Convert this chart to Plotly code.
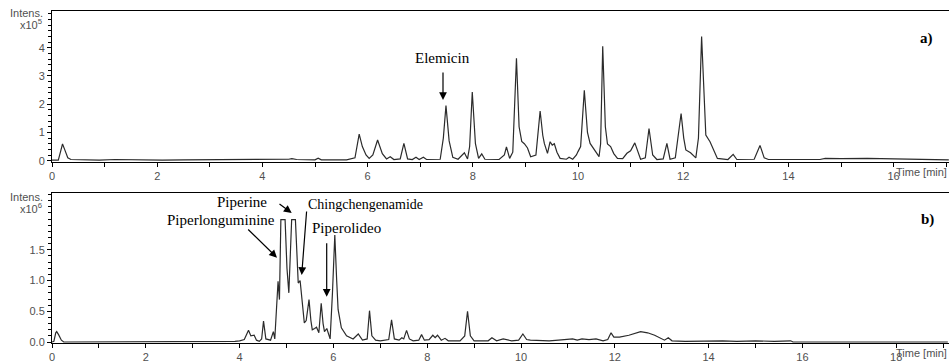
import plotly.graph_objects as go

# ---- panel a) (Intens. x10^5) ----
time_a = [0.0, 0.12, 0.16, 0.2, 0.24, 0.3, 0.36, 0.6, 0.9, 1.2, 1.5, 1.8, 2.1, 2.5, 3.0, 3.5, 4.0, 4.3, 4.5, 4.56,
          4.65, 5.0, 5.06, 5.12, 5.6, 5.76, 5.84, 5.9, 5.97, 6.03, 6.1, 6.19, 6.28, 6.36, 6.43, 6.5, 6.62, 6.69, 6.76,
          6.85, 6.92, 6.98, 7.06, 7.12, 7.38, 7.44, 7.49, 7.55, 7.62, 7.72, 7.84, 7.9, 7.94, 7.99, 8.05, 8.11, 8.17,
          8.23, 8.5, 8.6, 8.64, 8.7, 8.76, 8.83, 8.88, 8.93, 8.98, 9.04, 9.08, 9.1, 9.2, 9.28, 9.33, 9.36, 9.42, 9.47,
          9.51, 9.55, 9.6, 9.66, 9.78, 9.83, 9.9, 9.97, 10.0, 10.05, 10.12, 10.18, 10.23, 10.32, 10.38, 10.4, 10.43,
          10.47, 10.52, 10.56, 10.62, 10.68, 10.75, 10.85, 10.93, 11.0, 11.08, 11.14, 11.19, 11.28, 11.35, 11.42, 11.5,
          11.62, 11.69, 11.75, 11.85, 11.96, 12.01, 12.05, 12.14, 12.24, 12.29, 12.35, 12.39, 12.43, 12.51, 12.59,
          12.65, 12.85, 12.95, 13.02, 13.35, 13.46, 13.54, 13.62, 14.0, 14.4, 14.6, 14.7, 15.0, 15.5, 16.0, 16.3, 17.05]
intens_a = [0.02, 0.02, 0.3, 0.59, 0.4, 0.1, 0.04, 0.03, 0.02, 0.04, 0.03, 0.04, 0.02, 0.03, 0.03, 0.04, 0.04, 0.05,
            0.05, 0.07, 0.04, 0.03, 0.09, 0.03, 0.03, 0.1, 0.94, 0.5, 0.2, 0.08, 0.2, 0.73, 0.25, 0.06, 0.14, 0.04,
            0.06, 0.61, 0.06, 0.04, 0.12, 0.04, 0.12, 0.04, 0.05, 0.8, 1.95, 0.7, 0.12, 0.05, 0.28, 0.06, 0.5, 2.43,
            0.6, 0.08, 0.24, 0.05, 0.04, 0.2, 0.49, 0.08, 0.3, 3.63, 1.2, 0.68, 0.6, 0.45, 0.26, 0.14, 0.2, 1.76, 0.9,
            0.61, 0.26, 0.67, 0.55, 0.6, 0.3, 0.08, 0.05, 0.12, 0.05, 0.2, 0.32, 0.5, 2.49, 1.0, 0.61, 0.38, 0.2, 0.14,
            0.6, 4.05, 1.2, 0.59, 0.5, 0.25, 0.08, 0.07, 0.26, 0.35, 0.63, 0.3, 0.05, 0.1, 1.14, 0.2, 0.04, 0.06, 0.61,
            0.05, 0.1, 1.67, 0.8, 0.38, 0.28, 0.1, 0.8, 4.4, 2.5, 0.91, 0.67, 0.3, 0.08, 0.04, 0.22, 0.04, 0.05, 0.54,
            0.1, 0.04, 0.04, 0.05, 0.04, 0.08, 0.07, 0.08, 0.07, 0.04, 0.03]

# ---- panel b) (Intens. x10^6) ----
time_b = [0.0, 0.04, 0.08, 0.1, 0.14, 0.2, 0.25, 1.0, 2.0, 3.0, 3.9, 4.0, 4.1, 4.19, 4.24, 4.31, 4.36, 4.42, 4.47, 4.51,
          4.56, 4.66, 4.72, 4.75, 4.79, 4.82, 4.85, 4.88, 4.97, 5.01, 5.05, 5.08, 5.11, 5.19, 5.22, 5.25, 5.29, 5.34,
          5.38, 5.42, 5.48, 5.52, 5.55, 5.6, 5.64, 5.69, 5.74, 5.78, 5.81, 5.86, 5.93, 5.98, 6.03, 6.07, 6.1, 6.17,
          6.28, 6.42, 6.53, 6.62, 6.72, 6.77, 6.82, 6.9, 7.0, 7.18, 7.24, 7.3, 7.4, 7.46, 7.5, 7.56, 7.62, 7.7, 7.82,
          7.88, 7.94, 8.04, 8.12, 8.17, 8.22, 8.3, 8.38, 8.45, 8.7, 8.8, 8.86, 8.92, 9.0, 9.3, 9.38, 9.48, 9.62, 9.8,
          9.95, 10.04, 10.12, 10.2, 10.4, 10.6, 10.8, 11.1, 11.2, 11.3, 11.45, 11.6, 11.75, 11.85, 11.92, 11.98, 12.1,
          12.3, 12.55, 12.7, 12.85, 13.0, 13.06, 13.14, 13.22, 13.5, 14.0, 14.3, 14.6, 15.0, 15.4, 15.75, 15.8, 19.1]
intens_b = [0.0, 0.01, 0.15, 0.17, 0.12, 0.03, 0.0, 0.0, 0.0, 0.0, 0.01, 0.02, 0.04, 0.19, 0.1, 0.11, 0.03, 0.01, 0.05,
            0.34, 0.05, 0.03, 0.17, 0.05, 0.5, 0.99, 0.69, 1.99, 1.99, 1.2, 0.8, 1.3, 1.99, 1.99, 1.5, 0.96, 1.0, 0.66,
            0.31, 0.35, 0.69, 0.35, 0.2, 0.22, 0.24, 0.15, 0.63, 0.3, 0.17, 0.22, 0.05, 0.8, 1.74, 1.0, 0.53, 0.23, 0.1,
            0.05, 0.13, 0.03, 0.05, 0.51, 0.1, 0.03, 0.02, 0.04, 0.36, 0.05, 0.03, 0.07, 0.05, 0.19, 0.05, 0.02, 0.03,
            0.12, 0.03, 0.04, 0.11, 0.07, 0.11, 0.03, 0.06, 0.02, 0.02, 0.1, 0.5, 0.1, 0.02, 0.02, 0.07, 0.02, 0.05,
            0.02, 0.03, 0.13, 0.04, 0.03, 0.02, 0.02, 0.03, 0.05, 0.03, 0.05, 0.04, 0.05, 0.02, 0.04, 0.15, 0.08, 0.08,
            0.11, 0.17, 0.15, 0.11, 0.05, 0.03, 0.07, 0.02, 0.01, 0.02, 0.02, 0.01, 0.02, 0.01, 0.02, 0.0, 0.0]

ytick_a = [0, 1, 2, 3, 4]
ytick_b = [0.0, 0.5, 1.0, 1.5]
ytick_b_text = ["0.0", "0.5", "1.0", "1.5"]

W, H = 949, 364
ML, MR, MT, MB = 52, 0, 11, 21
PW, PH = W - ML - MR, H - MT - MB


def px(x):
    return (x - ML) / PW


def py(y):
    return (H - MB - y) / PH


line_col = "#2b2b2b"
fig = go.Figure()
fig.add_trace(go.Scatter(x=time_a, y=intens_a, mode="lines", line=dict(color=line_col, width=1.2),
                         xaxis="x", yaxis="y", hoverinfo="skip"))
fig.add_trace(go.Scatter(x=time_b, y=intens_b, mode="lines", line=dict(color=line_col, width=1.2),
                         xaxis="x2", yaxis="y2", hoverinfo="skip"))

tickfont = dict(family="Liberation Sans", size=11, color="#505050")
xcommon = dict(showgrid=False, zeroline=False, showline=True, linecolor="black", linewidth=1.2, mirror=True,
               ticks="outside", ticklen=4, tickcolor="black", dtick=2, tick0=0, tickfont=tickfont,
               minor=dict(dtick=1, ticks="outside", ticklen=4, tickcolor="black"))
ycommon = dict(showgrid=False, zeroline=False, showline=True, linecolor="black", linewidth=1,
               ticks="outside", ticklen=4, tickcolor="black", tickfont=tickfont)

fig.update_layout(
    width=W, height=H, margin=dict(l=ML, r=MR, t=MT, b=MB),
    paper_bgcolor="white", plot_bgcolor="white", showlegend=False,
    xaxis=dict(xcommon, domain=[0, 1], range=[0, (W - ML) / 52.6], anchor="y"),
    yaxis=dict(ycommon, domain=[py(161.5), 1], range=[-0.03, 5.3], anchor="x",
               tickvals=ytick_a, ticktext=[str(v) for v in ytick_a],
               minor=dict(tickvals=[i * 0.2 for i in range(27)], ticks="outside", ticklen=3, tickcolor="black")),
    xaxis2=dict(xcommon, domain=[0, 1], range=[0, (W - ML) / 46.9], anchor="y2"),
    yaxis2=dict(ycommon, domain=[0, py(193.3)], range=[-0.016, 2.42], anchor="x2",
                tickvals=ytick_b, ticktext=ytick_b_text,
                minor=dict(tickvals=[i * 0.1 for i in range(25)], ticks="outside", ticklen=3, tickcolor="black")),
)

small = dict(family="Liberation Sans", size=11, color="#505050")
anns = []
# axis titles
for ytop, exp in [(13, "5"), (197, "6")]:
    anns.append(dict(xref="paper", yref="paper", x=px(45), y=py(ytop), text="Intens.", showarrow=False,
                     xanchor="right", yanchor="middle", font=small))
    anns.append(dict(xref="paper", yref="paper", x=px(44), y=py(ytop + 11), text="x10<sup>" + exp + "</sup>",
                     showarrow=False, xanchor="right", yanchor="middle", font=small))
for ybot in [172, 353]:
    anns.append(dict(xref="paper", yref="paper", x=1.0, y=py(ybot), text="Time [min]", showarrow=False,
                     xanchor="right", yanchor="middle", font=small))
# panel labels
bold = dict(family="Liberation Serif", size=15, color="black")
anns.append(dict(xref="paper", yref="paper", x=px(935), y=py(28), text="<b>a)</b>", showarrow=False, font=bold))
anns.append(dict(xref="paper", yref="paper", x=px(936), y=py(219), text="<b>b)</b>", showarrow=False, font=bold))

# compound labels (text, centre px, font size) and arrows
labels = [
    ("Elemicin", 442, 58, 15),
    ("Piperine", 242, 202, 15),
    ("Chingchengenamide", 365, 205, 14),
    ("Piperlonguminine", 221, 220, 15),
    ("Piperolideo", 346, 228, 15),
]
for txt, x, y, fs in labels:
    anns.append(dict(xref="paper", yref="paper", x=px(x), y=py(y), text=txt, showarrow=False,
                     font=dict(family="Liberation Serif", size=fs, color="black"),
                     xanchor="center", yanchor="middle"))
arrows = [  # head (x,y), tail (x,y) in pixels
    ((443, 100), (443, 71)),
    ((291.7, 213), (278, 203)),
    ((301.7, 275), (306.7, 210)),
    ((277, 257.7), (246.7, 228)),
    ((326.7, 296.7), (326.7, 241.7)),
]
for (hx, hy), (tx, ty) in arrows:
    anns.append(dict(xref="paper", yref="paper", x=px(hx), y=py(hy), ax=tx - hx, ay=ty - hy, text="",
                     showarrow=True, arrowhead=2, arrowsize=1.3, arrowwidth=1.2, arrowcolor="black", standoff=0))
fig.update_layout(annotations=anns)

fig.write_html("out.html")
